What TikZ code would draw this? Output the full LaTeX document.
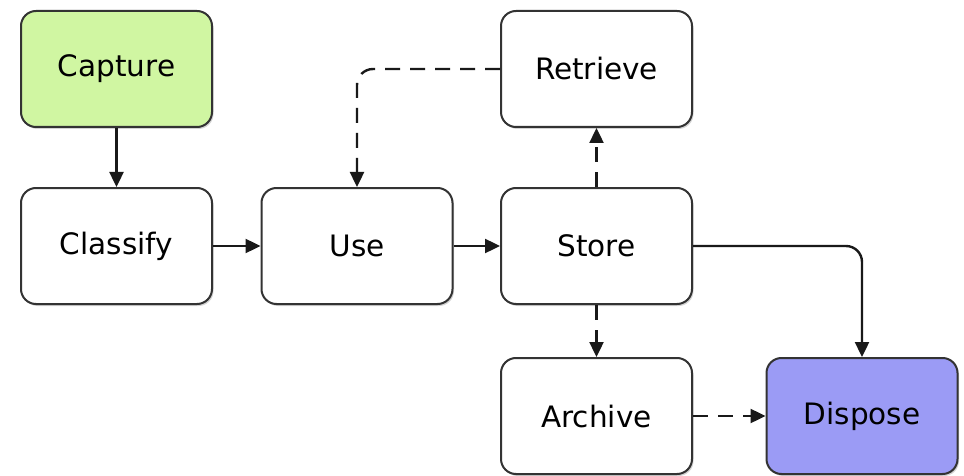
\documentclass[tikz,border=0pt]{standalone}
\usepackage{fontspec}
\setmainfont{DejaVu Sans}
\usetikzlibrary{arrows.meta,shadows}
\definecolor{capgreen}{RGB}{208,246,162}
\definecolor{dispblue}{RGB}{155,155,245}
\begin{document}
\begin{tikzpicture}[x=1pt,y=-1pt,
  stepbox/.style={draw=black!80,line width=2pt,rounded corners=15pt,
    minimum width=191pt,minimum height=116pt,fill=white,
    font=\fontsize{29.5}{34}\selectfont,inner sep=0pt,
    drop shadow={shadow xshift=1.5pt,shadow yshift=-2pt,opacity=0.35}},
  conn/.style={line width=2.4pt,black!90,-{Triangle[length=15pt,width=14pt]},rounded corners=16pt},
  dconn/.style={conn,dash pattern=on 15pt off 10pt}]
\useasboundingbox (0,0) rectangle (964,476);
\node[stepbox,fill=capgreen] (cap) at (116.5,69) {Capture};
\node[stepbox] (cla) at (116.5,246) {Classify};
\node[stepbox] (use) at (357,246) {Use};
\node[stepbox] (sto) at (596.5,246) {Store};
\node[stepbox] (ret) at (596.5,69) {Retrieve};
\node[stepbox] (arc) at (596.5,416) {Archive};
\node[stepbox,fill=dispblue] (dis) at (862,416) {Dispose};
\draw[conn] (cap) -- (cla);
\draw[conn] (cla) -- (use);
\draw[conn] (use) -- (sto);
\draw[dconn] (sto) -- (ret);
\draw[dconn] (sto) -- (arc);
\draw[dconn] (arc) -- (dis);
\draw[dconn] (ret.west) -| (use.north);
\draw[conn] (sto.east) -| (dis.north);
\end{tikzpicture}
\end{document}
